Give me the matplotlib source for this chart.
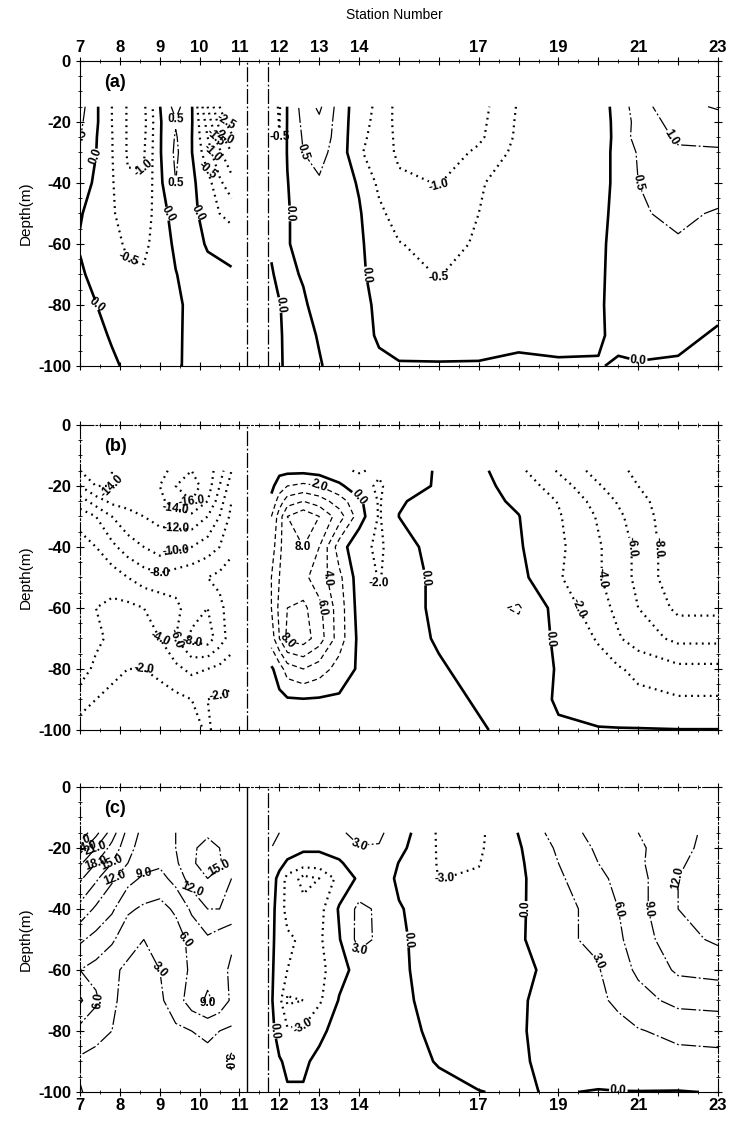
import numpy as np
import matplotlib
matplotlib.use('Agg')
import matplotlib.pyplot as plt
from matplotlib import font_manager
from matplotlib.ticker import MultipleLocator

# font: narrow sans if present
installed = {f.name for f in font_manager.fontManager.ttflist}
fams = [f for f in ['Liberation Sans Narrow', 'Liberation Sans', 'DejaVu Sans'] if f in installed]
plt.rcParams['font.family'] = fams

# ---- grid ----
depths = [-15, -20, -25, -30, -40, -50, -60, -70, -80, -90, -100]
stations_left = [7.0, 7.4, 7.8, 8.2, 8.6, 9.0, 9.4, 9.8, 10.2, 10.5, 10.8]
stations_right = [11.8, 12.0, 12.2, 12.6, 13.0, 13.5, 14.0, 14.5, 15, 16, 17, 18, 19, 20, 20.5, 21, 22, 23]
section_breaks = [11.2, 11.72]

station_ticks = [7, 8, 9, 10, 11, 12, 13, 14, 15, 16, 17, 18, 19, 20, 21, 22, 23]
station_labels = ['7', '8', '9', '10', '11', '12', '13', '14', '', '', '17', '', '19', '', '21', '', '23']
depth_ticks = [0, -20, -40, -60, -80, -100]

# ---- panel (a) ----
levels_a = [-3.0, -2.5, -2.0, -1.5, -1.0, -0.5, 0.0, 0.5, 1.0, 1.5]
a_left = [
    [0.7, 0.08, -0.5, -1.05, -1.1, -0.02, 0.7, 0.05, -1.5, -2.5, -3.0],
    [0.6, 0.08, -0.5, -1.05, -1.15, -0.05, 0.45, 0.05, -1.2, -2.2, -2.8],
    [0.52, 0.03, -0.48, -1.05, -1.1, -0.05, 0.55, 0.02, -1.0, -1.8, -2.4],
    [0.45, 0.01, -0.48, -1.05, -1.05, -0.05, 0.6, 0.02, -0.8, -1.4, -2.0],
    [0.2, -0.07, -0.45, -0.95, -0.95, -0.1, 0.5, 0.1, -0.3, -0.9, -1.3],
    [0.03, -0.15, -0.45, -0.7, -0.7, -0.3, 0.3, 0.2, -0.3, -0.5, -0.7],
    [-0.03, -0.2, -0.4, -0.55, -0.6, -0.3, 0.1, 0.2, -0.05, -0.1, -0.15],
    [0.05, -0.1, -0.3, -0.45, -0.45, -0.25, -0.02, 0.2, 0.15, 0.1, 0.05],
    [0.1, 0.01, -0.2, -0.3, -0.3, -0.2, -0.08, 0.1, 0.15, 0.15, 0.1],
    [0.15, 0.08, -0.03, -0.2, -0.2, -0.15, -0.07, 0.1, 0.12, 0.12, 0.1],
    [0.2, 0.15, 0.05, -0.05, -0.1, -0.1, -0.05, 0.08, 0.1, 0.1, 0.1],
]
a_right = [
    [-0.3, -0.55, 0.02, 0.7, 1.1, 0.3, -0.3, -0.6, -1.2, -1.5, -1.2, -0.45, -0.3, -0.2, 0.15, 0.8, 1.35, 1.55],
    [-0.28, -0.52, 0.02, 0.62, 0.9, 0.3, -0.35, -0.62, -1.2, -1.45, -1.15, -0.42, -0.28, -0.2, 0.12, 0.7, 1.2, 1.3],
    [-0.25, -0.5, 0.03, 0.55, 0.8, 0.3, -0.4, -0.65, -1.15, -1.4, -1.1, -0.4, -0.25, -0.18, 0.1, 0.75, 1.05, 1.1],
    [-0.2, -0.45, 0.03, 0.5, 0.65, 0.3, -0.45, -0.7, -1.1, -1.3, -0.9, -0.35, -0.25, -0.15, 0.1, 0.55, 0.95, 0.95],
    [-0.1, -0.3, -0.02, 0.35, 0.45, 0.25, -0.05, -0.6, -0.9, -1.02, -0.55, -0.25, -0.2, -0.15, 0.1, 0.5, 0.8, 0.75],
    [-0.05, -0.2, -0.05, 0.25, 0.3, 0.2, 0.05, -0.4, -0.7, -0.8, -0.5, -0.2, -0.15, -0.1, 0.1, 0.45, 0.6, 0.45],
    [-0.03, -0.1, -0.03, 0.15, 0.2, 0.15, 0.08, -0.25, -0.48, -0.65, -0.45, -0.15, -0.1, -0.05, 0.08, 0.4, 0.45, 0.3],
    [0.02, -0.05, -0.05, 0.02, 0.15, 0.12, 0.08, -0.15, -0.35, -0.52, -0.3, -0.1, -0.08, -0.03, 0.06, 0.3, 0.35, 0.25],
    [0.05, 0.01, -0.05, -0.03, 0.08, 0.1, 0.08, -0.05, -0.2, -0.3, -0.2, -0.08, -0.06, -0.02, 0.05, 0.25, 0.3, 0.1],
    [0.06, 0.02, -0.04, -0.04, 0.01, 0.08, 0.06, -0.02, -0.1, -0.12, -0.1, -0.05, -0.05, -0.02, 0.04, 0.15, 0.1, -0.05],
    [0.06, 0.02, -0.03, -0.03, -0.01, 0.05, 0.05, 0.03, 0.02, 0.02, 0.02, 0.04, 0.02, 0.01, -0.02, -0.03, -0.05, -0.2],
]

# ---- panel (b) ----
levels_b = [-16, -14, -12, -10, -8, -6, -4, -2, 0, 2, 4, 6, 8]
b_left = [
    [-14, -15, -14, -13, -12, -13, -15, -16, -15, -13, -10],
    [-12, -14, -14, -13.5, -12.5, -14, -16, -17, -15, -12, -9],
    [-9, -11, -12.5, -12.5, -12, -13.5, -15, -16, -14, -11, -8],
    [-7, -8, -10, -11.5, -12, -12.5, -13, -13.5, -12, -10, -7.5],
    [-5, -6, -7.5, -9, -10, -11, -10.5, -10, -9, -8, -6.5],
    [-4, -4.5, -5, -6, -7, -7.5, -7, -6.5, -6, -5.5, -5],
    [-4, -4, -3.5, -3.5, -4, -4.5, -5.5, -7, -8, -6.5, -5],
    [-5.5, -4.5, -3.5, -3, -3, -4, -6, -8.5, -9, -7, -5],
    [-5, -3.5, -2.5, -2, -2, -2.5, -3.5, -4.5, -4, -3.5, -3],
    [-3, -2, -1.5, -1, -1, -1.2, -1.5, -2, -2, -1.8, -1.5],
    [-1, -1, -1, -0.8, -0.8, -0.8, -1, -1.5, -2.2, -1.5, -1],
]
b_right = [
    [-1.0, -0.5, -0.5, -0.5, -0.8, -1.8, -2.1, -1.8, -1.5, 0.3, 0.5, -1.5, -4.2, -6.8, -7.5, -8.5, -9.0, -8.0],
    [-0.5, 1.0, 2.0, 2.5, 2.0, 0.5, -1.5, -2.2, -1.2, 0.3, 0.6, -0.8, -3.0, -5.8, -7.0, -8.0, -9.5, -9.0],
    [0.5, 3.0, 5.0, 6.0, 5.0, 3.0, 0.5, -2.2, -0.1, 0.4, 0.6, -0.3, -2.1, -4.8, -6.2, -7.4, -9.5, -9.4],
    [2.0, 5.0, 8.0, 9.5, 8.0, 5.0, 1.0, -2.2, 0.02, 0.5, 0.8, 0.05, -1.8, -4.2, -5.6, -7.0, -9.5, -9.6],
    [3.0, 5.5, 7.5, 8.0, 6.0, 1.0, -1.5, -2.3, -1.0, 1.0, 0.8, 0.2, -1.6, -3.8, -5.0, -6.5, -9.5, -9.7],
    [4.0, 6.0, 7.0, 6.5, 5.0, 2.5, -1.0, -2.1, -1.2, 0.6, 1.2, 0.6, -1.8, -3.8, -5.0, -6.5, -9.5, -9.6],
    [4.0, 6.5, 8.0, 8.5, 6.5, 3.0, -0.8, -1.6, -1.0, 0.5, 1.5, 2.2, -0.8, -3.2, -4.5, -6.0, -8.5, -8.5],
    [3.0, 6.0, 8.5, 9.0, 7.0, 3.0, -0.5, -1.0, -0.8, 0.2, 1.0, 1.2, -0.3, -2.2, -3.8, -5.0, -6.5, -6.5],
    [-0.3, 1.0, 3.0, 4.0, 3.0, 1.2, -0.3, -0.6, -0.6, -0.2, 0.6, 0.8, -0.1, -1.2, -1.8, -2.5, -3.5, -3.5],
    [-0.5, -0.5, -0.2, -0.1, -0.2, -0.3, -0.4, -0.4, -0.4, -0.3, 0.1, 0.5, -0.1, -0.8, -1.2, -1.5, -1.8, -1.8],
    [-0.5, -0.5, -0.4, -0.4, -0.4, -0.4, -0.4, -0.4, -0.4, -0.3, -0.1, 0.3, 0.1, 0.1, 0.1, 0.1, 0.05, 0.05],
]

# ---- panel (c) ----
levels_c = [-9, -6, -3, 0, 3, 6, 9, 12, 15, 18, 21, 24, 27]
c_left = [
    [29, 25, 19.5, 14, 11, 10.5, 12, 13.5, 14.5, 13.5, 12],
    [25.5, 21, 17, 13, 10.5, 10, 12, 14.5, 16, 15, 12.5],
    [21.5, 18, 15, 12, 10, 9.5, 11.5, 14.5, 16.5, 15.5, 12.5],
    [18.5, 15.5, 12.5, 10, 8.5, 8, 10, 13.5, 15, 14, 12],
    [14, 11.5, 9.5, 6.5, 5.5, 5, 6.5, 9.5, 12, 12, 11.5],
    [9.5, 8, 6.5, 4, 3, 4, 4.5, 7, 8.5, 7.5, 6.5],
    [6, 5, 3.5, 2.5, 2, 3, 4.5, 6.5, 8, 7, 5.5],
    [9.5, 6.5, 3.5, 2, 2, 2.5, 4.5, 7.5, 9.5, 8, 5.5],
    [5, 4, 3, 2.2, 2, 2, 2.5, 3, 3.5, 3, 2.5],
    [2.5, 2, 1.8, 1.8, 1.8, 1.8, 1.8, 2, 2.2, 2.5, 3.2],
    [3.2, 2, 1.8, 1.8, 1.8, 1.8, 1.8, 2, 2, 2.2, 2.5],
]
c_right = [
    [3.5, 3.0, 2.5, 1.5, 1.5, 2.5, 4.0, 3.5, 1.5, -3.4, -3.6, 0.1, 4.5, 7.0, 8.0, 9.0, 11.0, 13.0],
    [3.0, 2.5, 1.5, 0.5, 0.5, 1.5, 2.8, 2.8, 0.8, -3.3, -3.4, -0.3, 3.5, 6.5, 7.5, 8.5, 11.0, 13.5],
    [2.5, 1.0, -0.5, -1.5, -1.5, -0.5, 2.0, 2.2, -0.1, -3.2, -3.1, -0.5, 3.0, 6.0, 7.0, 8.5, 11.5, 14.0],
    [1.5, -1.0, -4.0, -7.0, -6.0, -2.0, 0.5, 1.5, -0.5, -3.05, -2.7, -0.6, 2.5, 5.5, 6.5, 8.0, 12.0, 14.5],
    [1.0, -1.5, -4.0, -5.0, -4.0, 0.3, 3.8, 2.5, 0.2, -1.5, -1.5, -0.5, 2.2, 3.8, 6.0, 8.0, 12.0, 14.0],
    [0.5, -1.0, -2.5, -3.5, -3.5, -0.2, 4.0, 2.5, 0.3, -1.0, -1.2, -0.5, 2.5, 3.5, 5.5, 7.5, 11.0, 12.5],
    [0.3, -1.0, -3.0, -4.5, -4.0, -1.0, 1.0, 1.0, 0.3, -0.8, -1.0, -0.8, 1.0, 2.8, 4.8, 6.5, 9.5, 10.0],
    [0.3, -2.0, -6.5, -6.0, -3.5, 0.2, 0.8, 0.8, 0.3, -0.5, -0.6, -0.3, 1.0, 2.5, 3.5, 5.0, 6.8, 7.0],
    [0.3, -0.5, -2.5, -2.5, -0.3, 0.5, 0.5, 0.5, 0.4, -0.3, -0.4, -0.2, 0.8, 1.8, 2.2, 2.8, 3.8, 4.2],
    [0.2, 0.1, -0.2, -0.2, 0.3, 0.4, 0.4, 0.4, 0.3, -0.05, -0.3, -0.2, 0.5, 1.0, 1.2, 1.5, 2.0, 2.0],
    [0.1, 0.1, 0.1, 0.1, 0.2, 0.3, 0.3, 0.3, 0.3, 0.2, 0.02, -0.1, 0.1, -0.1, -0.05, -0.05, -0.1, 0.1],
]

DOTTED = (0, (0.8, 2.0))
DASHDOT = (0, (12, 2, 1.5, 2))
DASHED = (0, (4, 2.5))


def draw_field(ax, xs, vals, levels, pos_style):
    z = np.array(vals, dtype=float)
    neg = [lv for lv in levels if lv < 0]
    pos = [lv for lv in levels if lv > 0]
    sets = []
    if neg:
        sets.append(ax.contour(xs, depths, z, levels=neg, colors='k',
                               linewidths=1.6, linestyles=[DOTTED]))
    sets.append(ax.contour(xs, depths, z, levels=[0.0], colors='k',
                           linewidths=1.9, linestyles='solid'))
    if pos:
        sets.append(ax.contour(xs, depths, z, levels=pos, colors='k',
                               linewidths=0.9, linestyles=[pos_style]))
    for cs in sets:
        txt = ax.clabel(cs, fmt='%.1f', fontsize=8.5, inline=True, inline_spacing=1)
        for t in txt:
            t.set_fontweight('bold')


def style_axes(ax, tag, labels_at):
    ax.set_xlim(7, 23)
    ax.set_ylim(-100, 0)
    ax.set_xticks(station_ticks)
    ax.xaxis.set_minor_locator(MultipleLocator(0.5))
    ax.set_yticks(depth_ticks)
    ax.set_yticklabels([str(d) for d in depth_ticks])
    ax.yaxis.set_minor_locator(MultipleLocator(5))
    ax.tick_params(which='major', direction='inout', length=6, width=0.8,
                   top=True, bottom=True, left=True, right=True, labelsize=12)
    ax.tick_params(which='minor', direction='inout', length=3, width=0.6,
                   top=True, bottom=True, left=True, right=True)
    if labels_at == 'top':
        ax.set_xticklabels(station_labels)
        ax.tick_params(axis='x', labeltop=True, labelbottom=False, pad=1)
    elif labels_at == 'bottom':
        ax.set_xticklabels(station_labels)
        ax.tick_params(axis='x', labeltop=False, labelbottom=True, pad=1)
    else:
        ax.tick_params(axis='x', labeltop=False, labelbottom=False)
    for lab in ax.get_xticklabels() + ax.get_yticklabels():
        lab.set_fontweight('bold')
    ax.set_ylabel('Depth(m)', fontsize=11, labelpad=4)
    for side, sp in ax.spines.items():
        sp.set_linewidth(0.8)
        if side != 'bottom' and tag != '(a)':
            sp.set_linestyle(DASHDOT)
    ax.text(7.6, -7, tag, fontsize=13, fontweight='bold', ha='left', va='center')


fig = plt.figure(figsize=(7.38, 11.26), dpi=100)
ax_w = 0.8645
ax_h = 0.2709
axa = fig.add_axes([0.1084, 0.675, ax_w, ax_h])
axb = fig.add_axes([0.1084, 0.3517, ax_w, ax_h])
axc = fig.add_axes([0.1084, 0.0302, ax_w, ax_h])

draw_field(axa, stations_left, a_left, levels_a, DASHDOT)
draw_field(axa, stations_right, a_right, levels_a, DASHDOT)
draw_field(axb, stations_left, b_left, levels_b, DASHED)
draw_field(axb, stations_right, b_right, levels_b, DASHED)
draw_field(axc, stations_left, c_left, levels_c, DASHDOT)
draw_field(axc, stations_right, c_right, levels_c, DASHDOT)

axa.axvline(section_breaks[0], color='k', lw=0.9, ls=DASHDOT)
axa.axvline(section_breaks[1], color='k', lw=0.9, ls=DASHDOT)
axb.axvline(section_breaks[0], color='k', lw=0.9, ls=DASHDOT)
axc.axvline(section_breaks[0], color='k', lw=1.0, ls='solid')
axc.axvline(section_breaks[1], color='k', lw=0.9, ls=DASHDOT)

style_axes(axa, '(a)', 'top')
style_axes(axb, '(b)', None)
style_axes(axc, '(c)', 'bottom')

fig.text(0.535, 0.987, 'Station Number', ha='center', va='center', fontsize=10)

fig.savefig('out.png', dpi=100)
